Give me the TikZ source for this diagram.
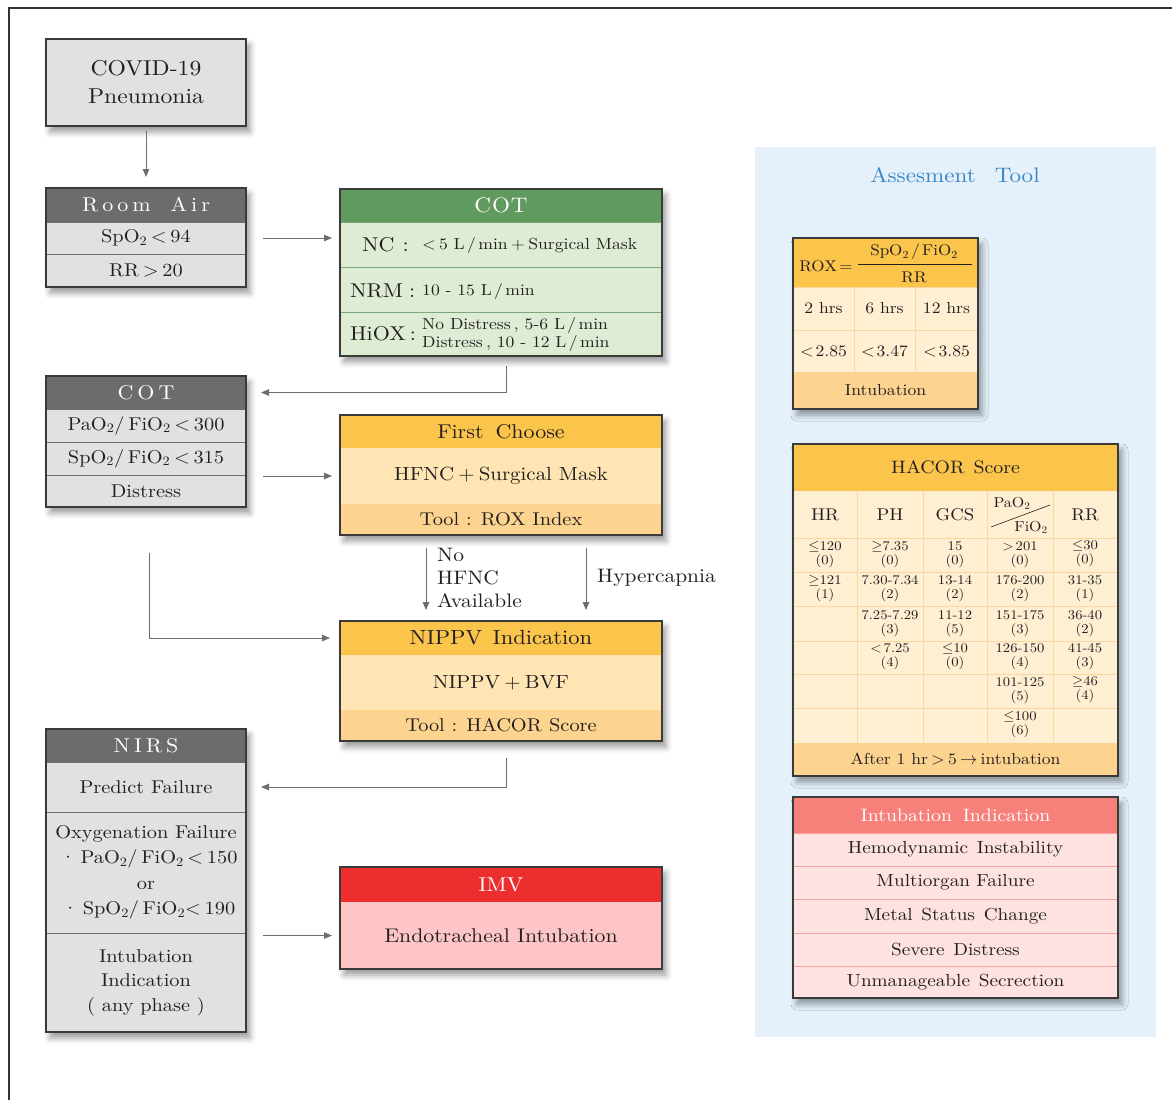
\documentclass[tikz,border=0pt]{standalone}
\usepackage{fontspec}
\setmainfont{lmroman10-regular.otf}[FakeStretch=1.1, BoldFont=lmroman10-bold.otf, ItalicFont=lmroman10-italic.otf]
\usetikzlibrary{arrows.meta,shadows.blur}
\definecolor{rimc}{HTML}{3A3A3A}
\definecolor{grayrow}{HTML}{E1E1E1}
\definecolor{grayhd}{HTML}{6D6B6C}
\definecolor{sepg}{HTML}{707070}
\definecolor{greenhd}{HTML}{619A5F}
\definecolor{greenrow}{HTML}{DEECD4}
\definecolor{sepgreen}{HTML}{7FA67A}
\definecolor{orhd}{HTML}{FBC44B}
\definecolor{orlight}{HTML}{FEE5B3}
\definecolor{ormid}{HTML}{FCD38F}
\definecolor{cream}{HTML}{FEEFD3}
\definecolor{orline}{HTML}{F9D8A0}
\definecolor{redhd}{HTML}{EC2E2F}
\definecolor{pinkbody}{HTML}{FDC5C5}
\definecolor{salmon}{HTML}{F8807A}
\definecolor{pinkrow}{HTML}{FDE2E1}
\definecolor{pinksep}{HTML}{F3A29F}
\definecolor{panelc}{HTML}{E4F1FB}
\definecolor{bluet}{HTML}{3B87C6}
\definecolor{arrowc}{HTML}{6E6E6E}
\definecolor{txt}{HTML}{231F20}
\definecolor{framec}{HTML}{333333}
\newcommand\fsz[2]{\fontsize{#1}{#2}\selectfont}
\newcommand\tw{\textsubscript{2}}
\newcommand\lk{\kern4pt}
\newcommand\Sl{\hspace{0.15em}/\hspace{0.15em}}
\newcommand\Lt{\hspace{0.2em}<\hspace{0.2em}}
\newcommand\Gt{\hspace{0.2em}>\hspace{0.2em}}
\newcommand\Pl{\hspace{0.22em}+\hspace{0.22em}}
\tikzset{
  back/.style={anchor=north west, inner sep=0pt, outer sep=0pt, fill=white,
    blur shadow={shadow xshift=4pt, shadow yshift=-6pt, shadow blur radius=6pt, shadow opacity=40}},
  cell/.style={anchor=north west, inner sep=0pt, outer sep=0pt, text=txt, align=center},
  rim/.style={draw=rimc, line width=1.4pt},
  conn/.style={draw=arrowc, line width=1pt, -{Triangle[length=8pt,width=6.5pt]}},
  lbl/.style={text=txt, inner sep=0pt, font=\fsz{19.5}{23}, align=left},
  hc/.style={text=txt, inner sep=0pt, align=center, font=\fsz{13.3}{14}},
  hh/.style={text=txt, inner sep=0pt, font=\fsz{17}{19}},
}
\begin{document}
\begin{tikzpicture}[x=1pt,y=-1pt]
\useasboundingbox (0,0) rectangle (1172,1100);
% page frame
\draw[framec, line width=1.2pt] (9,1100) -- (9,8) -- (1172,8);
% assessment panel
\fill[panelc] (755,147) rectangle (1156,1037);
\node[text=bluet, font=\fsz{21}{24}] (title) at (955,175) {Assesment\hspace{0.9em}Tool};

% ---------------- COVID-19
\node[back, fill=grayrow, draw=rimc, line width=1.4pt, minimum width=200pt, minimum height=87pt,
  text=txt, align=center, font=\fsz{21.5}{28}] (covid) at (46,39) {COVID-19\\Pneumonia};

% ---------------- Room Air
\node[back, minimum width=200pt, minimum height=99pt] (raB) at (46,188) {};
\node[cell, fill=grayhd, text=white, minimum width=200pt, minimum height=34pt, font=\fsz{20}{24}] (raH) at (46,188) {R\lk o\lk o\lk m\hspace{1em}A\lk i\lk r};
\node[cell, fill=grayrow, draw=sepg, line width=1pt, minimum width=200pt, minimum height=32pt, font=\fsz{18.5}{21}] (ra1) at (46,222) {SpO\tw{}\Lt 94};
\node[cell, fill=grayrow, draw=sepg, line width=1pt, minimum width=200pt, minimum height=33pt, font=\fsz{18.5}{21}] (ra2) at (46,254) {RR\Gt 20};
\draw[rim] (raB.north west) rectangle (raB.south east);

% ---------------- COT green
\node[back, minimum width=322pt, minimum height=167pt] (cgB) at (340,189) {};
\node[cell, fill=greenhd, text=white, minimum width=322pt, minimum height=33pt, font=\fsz{21}{24}] (cgH) at (340,189) {C\kern1pt O\kern1pt T};
\node[cell, fill=greenrow, draw=sepgreen, line width=1pt, minimum width=322pt, minimum height=45pt] (cg1) at (340,222) {};
\node[cell, fill=greenrow, draw=sepgreen, line width=1pt, minimum width=322pt, minimum height=45pt] (cg2) at (340,267) {};
\node[cell, fill=greenrow, draw=sepgreen, line width=1pt, minimum width=322pt, minimum height=44pt] (cg3) at (340,312) {};
\draw[rim] (cgB.north west) rectangle (cgB.south east);
\node[anchor=west, inner sep=0pt, text=txt, font=\fsz{20}{24}] (ncL) at (362,245) {NC\hspace{0.4em}:};
\node[anchor=west, inner sep=0pt, text=txt, font=\fsz{16}{19}] (ncV) at (422,245) {<\hspace{0.2em}5 L\Sl min\Pl Surgical Mask};
\node[anchor=west, inner sep=0pt, text=txt, font=\fsz{20}{24}] (nrL) at (350,291) {NRM\hspace{0.3em}:};
\node[anchor=west, inner sep=0pt, text=txt, font=\fsz{16}{19}] (nrV) at (422,291) {10 - 15 L\Sl min};
\node[anchor=west, inner sep=0pt, text=txt, font=\fsz{20}{24}] (hiL) at (350,334) {HiOX\hspace{0.2em}:};
\node[anchor=west, inner sep=0pt, text=txt, align=left, font=\fsz{16}{18}] (hiV) at (422,334) {No Distress\hspace{0.2em}, 5-6 L\Sl min\\Distress\hspace{0.2em}, 10 - 12 L\Sl min};

% ---------------- COT gray
\node[back, minimum width=200pt, minimum height=131pt] (gcB) at (46,376) {};
\node[cell, fill=grayhd, text=white, minimum width=200pt, minimum height=33pt, font=\fsz{20}{24}] (gcH) at (46,376) {C\lk O\lk T};
\node[cell, fill=grayrow, draw=sepg, line width=1pt, minimum width=200pt, minimum height=33pt, font=\fsz{18.5}{21}] (gc1) at (46,409) {PaO\tw{}/\hspace{0.2em}FiO\tw{}\Lt 300};
\node[cell, fill=grayrow, draw=sepg, line width=1pt, minimum width=200pt, minimum height=33pt, font=\fsz{18.5}{21}] (gc2) at (46,442) {SpO\tw{}/\hspace{0.2em}FiO\tw{}\Lt 315};
\node[cell, fill=grayrow, draw=sepg, line width=1pt, minimum width=200pt, minimum height=32pt, font=\fsz{18.5}{21}] (gc3) at (46,475) {Distress};
\draw[rim] (gcB.north west) rectangle (gcB.south east);

% ---------------- First Choose
\node[back, minimum width=322pt, minimum height=120pt] (fcB) at (340,415) {};
\node[cell, fill=orhd, minimum width=322pt, minimum height=33pt, font=\fsz{20}{24}] (fcH) at (340,415) {First\hspace{0.6em}Choose};
\node[cell, fill=orlight, minimum width=322pt, minimum height=56pt, font=\fsz{19}{23}] (fcM) at (340,448) {HFNC\Pl Surgical Mask};
\node[cell, fill=ormid, minimum width=322pt, minimum height=31pt, font=\fsz{18.5}{21}] (fcT) at (340,504) {Tool : ROX Index};
\draw[rim] (fcB.north west) rectangle (fcB.south east);

% ---------------- NIPPV
\node[back, minimum width=322pt, minimum height=120pt] (npB) at (340,621) {};
\node[cell, fill=orhd, minimum width=322pt, minimum height=34pt, font=\fsz{20.5}{24}] (npH) at (340,621) {NIPPV\hspace{0.5em}Indication};
\node[cell, fill=orlight, minimum width=322pt, minimum height=55pt, font=\fsz{19}{23}] (npM) at (340,655) {NIPPV\Pl BVF};
\node[cell, fill=ormid, minimum width=322pt, minimum height=31pt, font=\fsz{18.5}{21}] (npT) at (340,710) {Tool : HACOR\hspace{0.4em}Score};
\draw[rim] (npB.north west) rectangle (npB.south east);

% ---------------- NIRS
\node[back, minimum width=200pt, minimum height=303pt] (nrB) at (46,729) {};
\node[cell, fill=grayhd, text=white, minimum width=200pt, minimum height=33pt, font=\fsz{20}{24}] (nrH) at (46,729) {N\lk I\lk R\lk S};
\node[cell, fill=grayrow, draw=sepg, line width=1pt, minimum width=200pt, minimum height=50pt, font=\fsz{18.5}{21}] (nr1) at (46,762) {Predict Failure};
\node[cell, fill=grayrow, draw=sepg, line width=1pt, minimum width=200pt, minimum height=121pt, font=\fsz{18.5}{25.5}] (nr2) at (46,812) {Oxygenation Failure\\ \hspace{0.3em}·\hspace{0.25em}PaO\tw{}/\hspace{0.2em}FiO\tw{}\Lt 150\\or\\ \hspace{0.3em}·\hspace{0.25em}SpO\tw{}/\hspace{0.2em}FiO\tw{}<\hspace{0.2em}190};
\node[cell, fill=grayrow, draw=sepg, line width=1pt, minimum width=200pt, minimum height=99pt, font=\fsz{18.5}{24.5}] (nr3) at (46,933) {Intubation\\Indication\\( any phase )};
\draw[rim] (nrB.north west) rectangle (nrB.south east);

% ---------------- IMV
\node[back, minimum width=322pt, minimum height=102pt] (imB) at (340,867) {};
\node[cell, fill=redhd, text=white, minimum width=322pt, minimum height=35pt, font=\fsz{20}{24}] (imH) at (340,867) {IMV};
\node[cell, fill=pinkbody, minimum width=322pt, minimum height=67pt, font=\fsz{19.8}{23}] (imM) at (340,902) {Endotracheal Intubation};
\draw[rim] (imB.north west) rectangle (imB.south east);

% ---------------- ROX
\node[back, minimum width=185pt, minimum height=171pt] (rxB) at (793,238) {};
\node[cell, fill=orhd, minimum width=185pt, minimum height=49pt] (rxH) at (793,238) {};
\node[cell, fill=cream, draw=orline, line width=1pt, minimum width=61pt, minimum height=43pt, font=\fsz{16}{19}] (rx11) at (793,287) {2 hrs};
\node[cell, fill=cream, draw=orline, line width=1pt, minimum width=61pt, minimum height=43pt, font=\fsz{16}{19}] (rx12) at (854,287) {6 hrs};
\node[cell, fill=cream, draw=orline, line width=1pt, minimum width=63pt, minimum height=43pt, font=\fsz{16}{19}] (rx13) at (915,287) {12 hrs};
\node[cell, fill=cream, draw=orline, line width=1pt, minimum width=61pt, minimum height=42pt, font=\fsz{16}{19}] (rx21) at (793,330) {<\hspace{0.12em}2.85};
\node[cell, fill=cream, draw=orline, line width=1pt, minimum width=61pt, minimum height=42pt, font=\fsz{16}{19}] (rx22) at (854,330) {<\hspace{0.12em}3.47};
\node[cell, fill=cream, draw=orline, line width=1pt, minimum width=63pt, minimum height=42pt, font=\fsz{16}{19}] (rx23) at (915,330) {<\hspace{0.12em}3.85};
\node[cell, fill=ormid, minimum width=185pt, minimum height=37pt, font=\fsz{16}{19}] (rxF) at (793,372) {Intubation};
\draw[rim] (rxB.north west) rectangle (rxB.south east);
\node[text=txt, inner sep=0pt, font=\fsz{15.5}{19}] (roxL) at (826,266) {ROX\hspace{0.15em}=};
\node[text=txt, inner sep=0pt, font=\fsz{15.5}{19}] (roxN) at (914,252) {SpO\tw{}\Sl FiO\tw{}};
\node[text=txt, inner sep=0pt, font=\fsz{15.5}{19}] (roxD) at (914,277) {RR};
\draw[draw=txt, line width=0.7pt] (858,264) -- (972,264);

% ---------------- HACOR
\node[back, minimum width=325pt, minimum height=332pt] (hcB) at (793,444) {};
\node[cell, fill=orhd, minimum width=325pt, minimum height=47pt, font=\fsz{18}{21}] (hcH) at (793,444) {HACOR\hspace{0.5em}Score};
\node[cell, fill=cream, minimum width=325pt, minimum height=252pt] (hcT) at (793,491) {};
\node[cell, fill=ormid, minimum width=325pt, minimum height=33pt, font=\fsz{16}{19}] (hcF) at (793,743) {After 1 hr\Gt 5\hspace{0.2em}$\rightarrow$\hspace{0.2em}intubation};
\foreach \xx in {857,923,987,1053} \draw[orline, line width=1pt] (\xx,491) -- (\xx,743);
\foreach \yy in {538,572,606,641,674,708} \draw[orline, line width=1pt] (793,\yy) -- (1118,\yy);
\draw[rim] (hcB.north west) rectangle (hcB.south east);
\node[hh] (hHR) at (825,515) {HR};
\node[hh] (hPH) at (890,515) {PH};
\node[hh] (hGCS) at (955,515) {GCS};
\node[hh] (hRR) at (1085,515) {RR};
\node[text=txt, inner sep=0pt, font=\fsz{14.5}{16}] (hPa) at (1012,503) {PaO\tw};
\node[text=txt, inner sep=0pt, font=\fsz{14.5}{16}] (hFi) at (1031,527) {FiO\tw};
\draw[draw=txt, line width=0.6pt] (991,527) -- (1050,505);
% data rows
\node[hc] (c11) at (825,555) {$\leq$120\\(0)};
\node[hc] (c12) at (890,555) {$\geq$7.35\\(0)};
\node[hc] (c13) at (955,555) {15\\(0)};
\node[hc] (c14) at (1020,555) {>\hspace{0.15em}201\\(0)};
\node[hc] (c15) at (1085,554) {$\leq$30\\(0)};
\node[hc] (c21) at (825,589) {$\geq$121\\(1)};
\node[hc] (c22) at (890,589) {7.30-7.34\\(2)};
\node[hc] (c23) at (955,589) {13-14\\(2)};
\node[hc] (c24) at (1020,589) {176-200\\(2)};
\node[hc] (c25) at (1085,589) {31-35\\(1)};
\node[hc] (c32) at (890,624) {7.25-7.29\\(3)};
\node[hc] (c33) at (955,624) {11-12\\(5)};
\node[hc] (c34) at (1020,624) {151-175\\(3)};
\node[hc] (c35) at (1085,624) {36-40\\(2)};
\node[hc] (c42) at (890,657) {<\hspace{0.15em}7.25\\(4)};
\node[hc] (c43) at (955,657) {$\leq$10\\(0)};
\node[hc] (c44) at (1020,657) {126-150\\(4)};
\node[hc] (c45) at (1085,657) {41-45\\(3)};
\node[hc] (c54) at (1020,691) {101-125\\(5)};
\node[hc] (c55) at (1085,690) {$\geq$46\\(4)};
\node[hc] (c64) at (1020,725) {$\leq$100\\(6)};

% ---------------- Intubation Indication
\node[back, minimum width=325pt, minimum height=201pt] (iiB) at (793,797) {};
\node[cell, fill=salmon, text=white, minimum width=325pt, minimum height=36pt, font=\fsz{18}{21}] (iiH) at (793,797) {Intubation\hspace{0.6em}Indication};
\node[cell, fill=pinkrow, draw=pinksep, line width=1pt, minimum width=325pt, minimum height=33pt, font=\fsz{17.5}{20}] (ii1) at (793,833) {Hemodynamic\hspace{0.5em}Instability};
\node[cell, fill=pinkrow, draw=pinksep, line width=1pt, minimum width=325pt, minimum height=33pt, font=\fsz{17.5}{20}] (ii2) at (793,866) {Multiorgan Failure};
\node[cell, fill=pinkrow, draw=pinksep, line width=1pt, minimum width=325pt, minimum height=34pt, font=\fsz{17.5}{20}] (ii3) at (793,899) {Metal\hspace{0.5em}Status\hspace{0.5em}Change};
\node[cell, fill=pinkrow, draw=pinksep, line width=1pt, minimum width=325pt, minimum height=33pt, font=\fsz{17.5}{20}] (ii4) at (793,933) {Severe\hspace{0.5em}Distress};
\node[cell, fill=pinkrow, draw=pinksep, line width=1pt, minimum width=325pt, minimum height=32pt, font=\fsz{17.5}{20}] (ii5) at (793,966) {Unmanageable\hspace{0.5em}Secrection};
\draw[rim] (iiB.north west) rectangle (iiB.south east);

% ---------------- connectors
\draw[conn, shorten <=5pt, shorten >=11pt] (covid.south) -- (raH.north);
\draw[conn, shorten <=17pt, shorten >=8pt] (ra1.east) -- (ra1.east -| cg1.west);
\coordinate (t1) at (506,366);
\draw[conn, shorten >=15pt] (t1) |- (gcH.east);
\draw[conn, shorten <=17pt, shorten >=8pt] (fcM.west -| gcH.east) -- (fcM.west);
\draw[conn, shorten <=13pt, shorten >=11pt] ([xshift=-75pt]fcB.south) -- ([xshift=-75pt]npB.north);
\draw[conn, shorten <=13pt, shorten >=11pt] ([xshift=85pt]fcB.south) -- ([xshift=85pt]npB.north);
\coordinate (t2) at (149,553);
\draw[conn, shorten >=10pt] (t2) |- (npH.west);
\coordinate (t3) at (506,758);
\draw[conn, shorten >=15pt] (t3) |- (nr1.east);
\draw[conn, shorten <=17pt, shorten >=8pt] (imM.west -| nr3.east) -- (imM.west);

% labels
\node[lbl, anchor=west] (noh) at (437,578) {No\\HFNC\\Available};
\node[lbl, anchor=west] (hyp) at (597,578) {Hypercapnia};
\end{tikzpicture}
\end{document}
